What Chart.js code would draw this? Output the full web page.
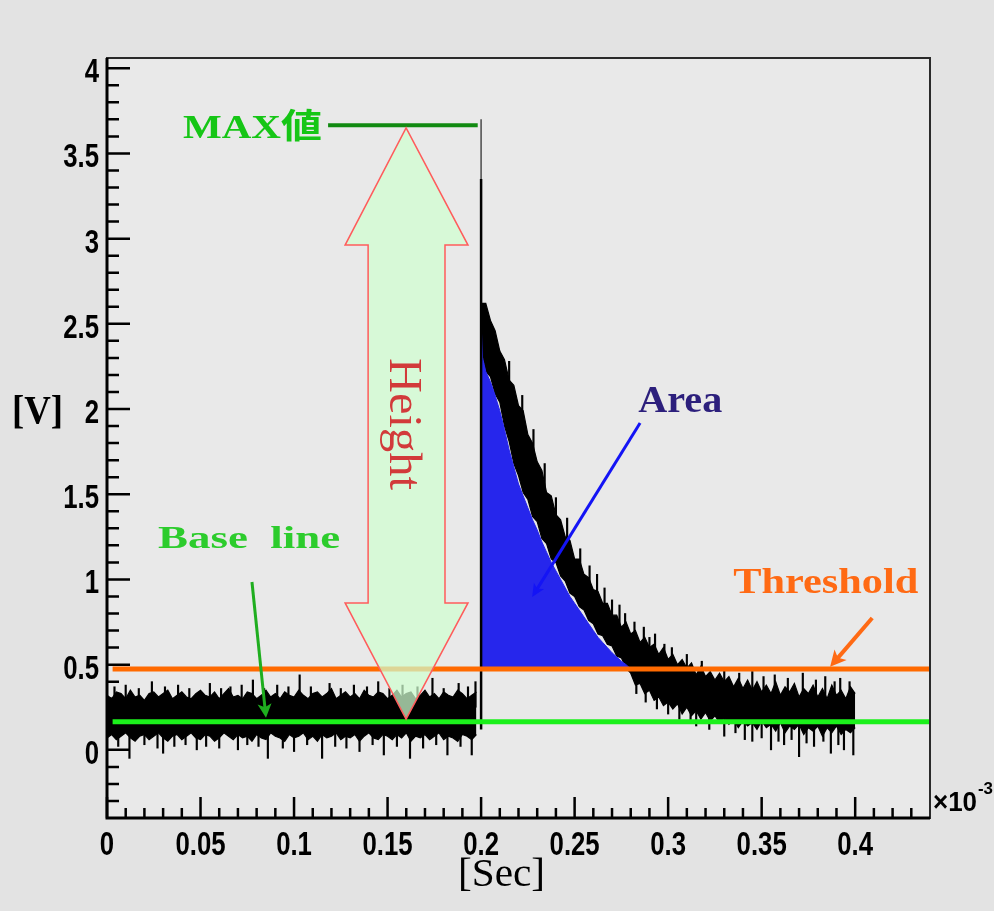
<!DOCTYPE html>
<html>
<head>
<meta charset="utf-8">
<title>Pulse height / area</title>
<script src="https://cdn.jsdelivr.net/npm/chart.js@4.4.0/dist/chart.umd.min.js"></script>
<style>
  html, body { margin: 0; padding: 0; background: #e3e3e3; }
  canvas { display: block; }
</style>
</head>
<body>
<canvas id="scope" width="994" height="911"></canvas>
<script>
// time axis is in units of 10^-3 s, voltage in V
const sampleStep = 0.0025;

// noise envelope before the pulse, t = 0 .. 0.1975
const baseHigh = [
  0.32, 0.30, 0.34, 0.33, 0.30, 0.35, 0.31, 0.32, 0.29, 0.33,
  0.34, 0.31, 0.33, 0.35, 0.30, 0.32, 0.34, 0.31, 0.30, 0.33,
  0.35, 0.32, 0.31, 0.34, 0.30, 0.33, 0.36, 0.31, 0.32, 0.30,
  0.34, 0.33, 0.30, 0.32, 0.35, 0.31, 0.33, 0.30, 0.34, 0.32,
  0.31, 0.35, 0.32, 0.30, 0.33, 0.34, 0.31, 0.33, 0.36, 0.30,
  0.32, 0.34, 0.31, 0.33, 0.30, 0.35, 0.32, 0.31, 0.34, 0.33,
  0.30, 0.32, 0.35, 0.31, 0.33, 0.34, 0.30, 0.32, 0.35, 0.31,
  0.33, 0.30, 0.34, 0.32, 0.31, 0.35, 0.33, 0.30, 0.32, 0.34
];
const baseLow = [
  0.07, 0.09, 0.06, 0.08, 0.10, 0.07, 0.05, 0.08, 0.09, 0.06,
  0.08, 0.10, 0.07, 0.05, 0.08, 0.09, 0.06, 0.08, 0.10, 0.07,
  0.06, 0.09, 0.08, 0.05, 0.07, 0.10, 0.08, 0.06, 0.09, 0.07,
  0.08, 0.05, 0.09, 0.07, 0.06, 0.10, 0.08, 0.07, 0.05, 0.09,
  0.07, 0.08, 0.10, 0.06, 0.08, 0.05, 0.09, 0.07, 0.08, 0.10,
  0.06, 0.08, 0.07, 0.09, 0.05, 0.08, 0.10, 0.07, 0.06, 0.09,
  0.08, 0.06, 0.09, 0.07, 0.10, 0.05, 0.08, 0.07, 0.09, 0.06,
  0.08, 0.10, 0.06, 0.08, 0.07, 0.05, 0.09, 0.08, 0.06, 0.09
];

// sample at t = 0.2 (just after the trigger)
const pulseSample = [2.36, 2.62];

// decaying tail, t = 0.2025 .. 0.4
const tailHigh = [
  2.62, 2.52, 2.46, 2.34, 2.29, 2.17, 2.14, 2.02, 1.99, 1.85,
  1.80, 1.69, 1.64, 1.51, 1.49, 1.38, 1.35, 1.25, 1.23, 1.12,
  1.12, 1.03, 1.01, 0.94, 0.93, 0.86, 0.86, 0.79, 0.79, 0.72,
  0.75, 0.68, 0.70, 0.63, 0.66, 0.60, 0.62, 0.56, 0.60, 0.53,
  0.56, 0.50, 0.53, 0.48, 0.51, 0.44, 0.49, 0.43, 0.46, 0.41,
  0.45, 0.40, 0.43, 0.37, 0.42, 0.36, 0.41, 0.35, 0.40, 0.34,
  0.38, 0.33, 0.40, 0.32, 0.37, 0.34, 0.39, 0.31, 0.36, 0.33,
  0.38, 0.31, 0.36, 0.30, 0.38, 0.32, 0.35, 0.30, 0.37, 0.33
];
const tailLow = [
  2.22, 2.19, 2.09, 2.04, 1.90, 1.81, 1.68, 1.61, 1.51, 1.47,
  1.37, 1.34, 1.24, 1.21, 1.12, 1.10, 1.02, 0.99, 0.92, 0.90,
  0.84, 0.82, 0.76, 0.74, 0.68, 0.67, 0.62, 0.61, 0.55, 0.54,
  0.48, 0.45, 0.38, 0.39, 0.33, 0.35, 0.29, 0.31, 0.26, 0.28,
  0.24, 0.27, 0.21, 0.25, 0.20, 0.23, 0.18, 0.22, 0.17, 0.20,
  0.16, 0.19, 0.15, 0.18, 0.13, 0.17, 0.14, 0.16, 0.12, 0.17,
  0.13, 0.15, 0.11, 0.16, 0.10, 0.14, 0.12, 0.15, 0.09, 0.13,
  0.11, 0.14, 0.08, 0.13, 0.10, 0.14, 0.09, 0.12, 0.10, 0.13
];

// single-sample glitches sticking out of the band: [t, low, high]
const preSpikesUp = [
  [0.004, 0.25, 0.37], [0.010, 0.25, 0.38], [0.017, 0.25, 0.36], [0.024, 0.25, 0.40], [0.031, 0.25, 0.37],
  [0.038, 0.25, 0.38], [0.044, 0.25, 0.36], [0.055, 0.25, 0.39], [0.061, 0.25, 0.36], [0.066, 0.25, 0.37],
  [0.072, 0.25, 0.38], [0.078, 0.25, 0.41], [0.084, 0.25, 0.36], [0.091, 0.25, 0.38], [0.097, 0.25, 0.37],
  [0.103, 0.25, 0.44], [0.109, 0.25, 0.37], [0.119, 0.25, 0.39], [0.125, 0.25, 0.36], [0.132, 0.25, 0.38],
  [0.139, 0.25, 0.37], [0.145, 0.25, 0.40], [0.151, 0.25, 0.36], [0.158, 0.25, 0.38], [0.166, 0.25, 0.37],
  [0.174, 0.25, 0.42], [0.180, 0.25, 0.36], [0.188, 0.25, 0.39], [0.193, 0.25, 0.37], [0.197, 0.25, 0.40]
];
const preSpikesDown = [
  [0.006, 0.02, 0.12], [0.012, -0.05, 0.12], [0.020, 0.03, 0.12], [0.027, 0.01, 0.12], [0.030, -0.02, 0.12],
  [0.036, 0.02, 0.12], [0.042, 0.03, 0.12], [0.048, 0.00, 0.12], [0.053, 0.02, 0.12], [0.060, 0.01, 0.12],
  [0.070, 0.00, 0.12], [0.075, 0.03, 0.12], [0.081, 0.02, 0.12], [0.086, -0.05, 0.12], [0.094, 0.01, 0.12],
  [0.100, -0.01, 0.12], [0.107, 0.03, 0.12], [0.115, -0.05, 0.12], [0.122, 0.02, 0.12], [0.128, 0.01, 0.12],
  [0.135, -0.01, 0.12], [0.142, 0.03, 0.12], [0.148, -0.03, 0.12], [0.155, 0.02, 0.12], [0.162, -0.05, 0.12],
  [0.169, 0.01, 0.12], [0.176, 0.03, 0.12], [0.182, -0.03, 0.12], [0.189, 0.02, 0.12], [0.195, -0.03, 0.12]
];
const tailSpikesUp = [
  [0.215, 2.00, 2.28], [0.222, 1.80, 2.08], [0.228, 1.60, 1.88], [0.234, 1.40, 1.68], [0.240, 1.20, 1.48],
  [0.246, 1.10, 1.36], [0.253, 0.95, 1.18], [0.258, 0.85, 1.08], [0.262, 0.80, 1.03], [0.266, 0.75, 0.95],
  [0.270, 0.70, 0.88], [0.274, 0.65, 0.85], [0.277, 0.60, 0.80], [0.282, 0.55, 0.75], [0.287, 0.50, 0.72],
  [0.290, 0.50, 0.66], [0.293, 0.45, 0.68], [0.298, 0.45, 0.62], [0.302, 0.40, 0.60], [0.310, 0.35, 0.56],
  [0.318, 0.30, 0.52], [0.330, 0.30, 0.48], [0.338, 0.30, 0.45], [0.345, 0.30, 0.46], [0.351, 0.30, 0.43],
  [0.357, 0.30, 0.44], [0.364, 0.30, 0.42], [0.372, 0.30, 0.45], [0.379, 0.30, 0.41], [0.384, 0.30, 0.43],
  [0.389, 0.30, 0.40], [0.392, 0.30, 0.42], [0.397, 0.30, 0.40]
];
const tailSpikesDown = [
  [0.283, 0.33, 0.45], [0.288, 0.28, 0.40], [0.294, 0.24, 0.35], [0.300, 0.21, 0.30], [0.306, 0.18, 0.28],
  [0.312, 0.16, 0.26], [0.315, 0.14, 0.25], [0.322, 0.12, 0.22], [0.330, 0.08, 0.20], [0.336, 0.10, 0.20],
  [0.341, 0.06, 0.18], [0.345, 0.05, 0.18], [0.350, 0.07, 0.16], [0.355, 0.00, 0.16], [0.359, 0.05, 0.16],
  [0.362, 0.03, 0.15], [0.366, 0.06, 0.15], [0.370, -0.04, 0.15], [0.374, 0.04, 0.15], [0.378, 0.02, 0.15],
  [0.383, 0.05, 0.15], [0.387, -0.02, 0.15], [0.391, 0.03, 0.15], [0.394, 0.00, 0.15], [0.399, -0.03, 0.15]
];

// integrated region above threshold (smooth decay curve)
const areaTimes = [
  0.2, 0.2008, 0.2025, 0.205, 0.2075, 0.21, 0.2125, 0.215, 0.2175, 0.22,
  0.2225, 0.225, 0.2275, 0.23, 0.2325, 0.235, 0.2375, 0.24, 0.2425, 0.245,
  0.2475, 0.25, 0.2525, 0.255, 0.2575, 0.26, 0.2625, 0.265, 0.2675, 0.27,
  0.2725, 0.275, 0.2775, 0.28
];
const areaLevels = [
  2.50, 2.30, 2.22, 2.16, 2.08, 1.99, 1.88, 1.76, 1.66, 1.56,
  1.49, 1.42, 1.35, 1.29, 1.22, 1.16, 1.10, 1.05, 1.00, 0.95,
  0.90, 0.86, 0.82, 0.78, 0.74, 0.70, 0.66, 0.63, 0.60, 0.57,
  0.545, 0.52, 0.50, 0.475
];

const pulseTime = 0.2;
const pulseEdge = [0.12, 3.35];
const pulseTop = 3.70;
const maxLevel = 3.665;
const thresholdLevel = 0.475;
const baselineLevel = 0.165;

const xTickValues = [0, 0.05, 0.1, 0.15, 0.2, 0.25, 0.3, 0.35, 0.4];
const xTickLabels = ['0', '0.05', '0.1', '0.15', '0.2', '0.25', '0.3', '0.35', '0.4'];
const yTickValues = [0, 0.5, 1, 1.5, 2, 2.5, 3, 3.5, 4];
const yTickLabels = ['0', '0.5', '1', '1.5', '2', '2.5', '3', '3.5', '4'];

// ---- build datasets ----
const baseUpper = baseHigh.map((v, i) => ({ x: i * sampleStep, y: v }));
const baseLower = baseLow.map((v, i) => ({ x: i * sampleStep, y: v }));
const tailUpper = [{ x: pulseTime, y: pulseSample[1] }]
  .concat(tailHigh.map((v, i) => ({ x: (81 + i) * sampleStep, y: v })));
const tailLower = [{ x: pulseTime, y: pulseSample[0] }]
  .concat(tailLow.map((v, i) => ({ x: (81 + i) * sampleStep, y: v })));

const spikeBars = preSpikesUp.concat(preSpikesDown, tailSpikesUp, tailSpikesDown)
  .map(([t, lo, hi]) => ({ x: t, y: [lo, hi] }));
const areaPoints = areaTimes.map((t, i) => ({ x: t, y: areaLevels[i] }));

const SERIF = '"Liberation Serif", "Times New Roman", "Noto Sans CJK JP", serif';
const SANS = '"Liberation Sans", Arial, sans-serif';

function fitText(ctx, text, x, y, width, font, color) {
  ctx.save();
  ctx.font = font;
  ctx.fillStyle = color;
  ctx.textAlign = 'left';
  ctx.textBaseline = 'alphabetic';
  const w = ctx.measureText(text).width;
  ctx.translate(x, y);
  ctx.scale(width / w, 1);
  ctx.fillText(text, 0, 0);
  ctx.restore();
}

function tickText(ctx, text, x, y, align) {
  const squeeze = 0.78;
  ctx.save();
  ctx.font = 'bold 33px ' + SANS;
  ctx.fillStyle = '#000';
  ctx.textBaseline = 'alphabetic';
  const w = ctx.measureText(text).width * squeeze;
  const left = align === 'center' ? x - w / 2 : x - w;
  ctx.translate(left, y);
  ctx.scale(squeeze, 1);
  ctx.fillText(text, 0, 0);
  ctx.restore();
}

function arrow(ctx, x1, y1, x2, y2, color, width, headLen, headHalf) {
  const ang = Math.atan2(y2 - y1, x2 - x1);
  ctx.save();
  ctx.strokeStyle = color;
  ctx.fillStyle = color;
  ctx.lineWidth = width;
  ctx.beginPath();
  ctx.moveTo(x1, y1);
  ctx.lineTo(x2 - Math.cos(ang) * headLen * 0.6, y2 - Math.sin(ang) * headLen * 0.6);
  ctx.stroke();
  ctx.translate(x2, y2);
  ctx.rotate(ang);
  ctx.beginPath();
  ctx.moveTo(0, 0);
  ctx.lineTo(-headLen, -headHalf);
  ctx.lineTo(-headLen * 0.75, 0);
  ctx.lineTo(-headLen, headHalf);
  ctx.closePath();
  ctx.fill();
  ctx.restore();
}

const backdrop = {
  id: 'backdrop',
  beforeDraw(chart) {
    const { ctx, chartArea: a } = chart;
    ctx.save();
    ctx.fillStyle = '#e3e3e3';
    ctx.fillRect(0, 0, chart.width, chart.height);
    ctx.fillStyle = '#e9e9e9';
    ctx.fillRect(a.left, a.top, a.right - a.left, a.bottom - a.top);
    ctx.restore();
  }
};

const notes = {
  id: 'notes',
  afterDatasetsDraw(chart) {
    const { ctx } = chart;
    const X = v => chart.scales.x.getPixelForValue(v);
    const Y = v => chart.scales.y.getPixelForValue(v);

    // MAX line
    ctx.save();
    ctx.strokeStyle = '#118a11';
    ctx.lineWidth = 4;
    ctx.beginPath();
    ctx.moveTo(X(0.1182), Y(maxLevel));
    ctx.lineTo(X(0.1982), Y(maxLevel));
    ctx.stroke();
    ctx.restore();
    fitText(ctx, 'MAX値', X(0.0406), Y(3.59), 139, 'bold 34px ' + SERIF, '#16c616');

    // Height double arrow
    const hx = 0.1599, headL = 0.1273, headR = 0.1930, shaftL = 0.1396, shaftR = 0.1807;
    const upper = 2.962, lower = 0.862;
    const poly = [
      [hx, 3.65], [headR, upper], [shaftR, upper], [shaftR, lower], [headR, lower],
      [hx, 0.18], [headL, lower], [shaftL, lower], [shaftL, upper], [headL, upper]
    ];
    ctx.save();
    ctx.beginPath();
    poly.forEach(([px, py], i) => i ? ctx.lineTo(X(px), Y(py)) : ctx.moveTo(X(px), Y(py)));
    ctx.closePath();
    ctx.fillStyle = 'rgba(208, 255, 208, 0.72)';
    ctx.fill();
    ctx.strokeStyle = '#ff5c5c';
    ctx.lineWidth = 1.5;
    ctx.stroke();
    ctx.restore();

    // "Height", rotated
    ctx.save();
    ctx.font = '46px ' + SERIF;
    const hw = ctx.measureText('Height').width;
    ctx.translate(X(hx), Y(1.912));
    ctx.rotate(Math.PI / 2);
    ctx.scale(132 / hw, 1);
    ctx.fillStyle = '#d23a3a';
    ctx.textBaseline = 'alphabetic';
    ctx.fillText('Height', -hw / 2, 16);
    ctx.restore();

    // Area label + pointer
    fitText(ctx, 'Area', X(0.284), Y(1.982), 84, 'bold 38px ' + SERIF, '#2c1f7c');
    arrow(ctx, X(0.285), Y(1.918), X(0.2273), Y(0.897), '#1414f5', 3, 13, 6);

    // Base line label + pointer
    fitText(ctx, 'Base  line', X(0.0273), Y(1.185), 182, 'bold 32px ' + SERIF, '#2ccc2c');
    arrow(ctx, X(0.0775), Y(0.985), X(0.085), Y(0.188), '#1fae1f', 3, 14, 7);

    // Threshold label + pointer
    fitText(ctx, 'Threshold', X(0.3348), Y(0.921), 185, 'bold 36px ' + SERIF, '#ff6a14');
    arrow(ctx, X(0.4091), Y(0.774), X(0.3866), Y(0.487), '#ff6a14', 4, 16, 8);
  },

  afterDraw(chart) {
    const { ctx, chartArea: a } = chart;
    const X = v => chart.scales.x.getPixelForValue(v);
    const Y = v => chart.scales.y.getPixelForValue(v);

    ctx.save();
    // frame
    ctx.strokeStyle = '#2a2a2a';
    ctx.lineWidth = 2;
    ctx.strokeRect(a.left, a.top, a.right - a.left, a.bottom - a.top);
    ctx.strokeStyle = '#000';
    ctx.lineWidth = 3;
    ctx.beginPath();
    ctx.moveTo(a.left, a.top);
    ctx.lineTo(a.left, a.bottom);
    ctx.lineTo(a.right, a.bottom);
    ctx.stroke();

    // ticks pointing into the frame
    ctx.lineWidth = 2.5;
    ctx.beginPath();
    for (let k = 0; k <= 43; k++) {
      const px = X(k / 100);
      const len = k % 5 === 0 ? 21 : 10;
      ctx.moveTo(px, a.bottom);
      ctx.lineTo(px, a.bottom - len);
    }
    for (let k = -3; k <= 40; k++) {
      const py = Y(k / 10);
      const len = k % 5 === 0 ? 23 : 12;
      ctx.moveTo(a.left, py);
      ctx.lineTo(a.left + len, py);
    }
    ctx.stroke();
    ctx.restore();

    xTickValues.forEach((v, i) => tickText(ctx, xTickLabels[i], X(v), a.bottom + 37, 'center'));
    yTickValues.forEach((v, i) => tickText(ctx, yTickLabels[i], a.left - 8, Y(v) + 14, 'right'));

    // exponent of the time axis
    fitText(ctx, '×10', a.right + 3, a.bottom - 7, 44, 'bold 28px ' + SANS, '#000');
    fitText(ctx, '-3', a.right + 48, a.bottom - 24, 15, 'bold 17px ' + SANS, '#000');

    // axis titles
    fitText(ctx, '[V]', 12, 423, 51, 'bold 40px ' + SERIF, '#000');
    fitText(ctx, '[Sec]', X(0.1877), a.bottom + 68, 87, '40px ' + SERIF, '#000');
  }
};

function bandEdge(label, points, fill) {
  return {
    type: 'line',
    label,
    data: points,
    borderColor: '#000',
    borderWidth: 1.2,
    backgroundColor: '#000',
    pointRadius: 0,
    tension: 0,
    fill,
    order: 3
  };
}

new Chart(document.getElementById('scope'), {
  type: 'bar',
  data: {
    datasets: [
      bandEdge('signal (pre) upper', baseUpper, '+1'),
      bandEdge('signal (pre) lower', baseLower, false),
      bandEdge('signal (tail) upper', tailUpper, '+1'),
      bandEdge('signal (tail) lower', tailLower, false),
      {
        type: 'bar',
        label: 'glitches',
        data: spikeBars,
        backgroundColor: '#000',
        barThickness: 1.5,
        grouped: false,
        order: 3
      },
      {
        type: 'line',
        label: 'area',
        data: areaPoints,
        borderColor: '#2626ec',
        borderWidth: 1,
        backgroundColor: '#2626ec',
        fill: { value: thresholdLevel },
        pointRadius: 0,
        order: 2
      },
      {
        type: 'line',
        label: 'pulse edge',
        data: [{ x: pulseTime, y: pulseEdge[0] }, { x: pulseTime, y: pulseEdge[1] }],
        borderColor: '#000',
        borderWidth: 2.5,
        pointRadius: 0,
        order: 1
      },
      {
        type: 'line',
        label: 'pulse tip',
        data: [{ x: pulseTime, y: pulseEdge[1] }, { x: pulseTime, y: pulseTop }],
        borderColor: '#4a4a4a',
        borderWidth: 1.5,
        pointRadius: 0,
        order: 1
      },
      {
        type: 'line',
        label: 'threshold',
        data: [{ x: 0.003, y: thresholdLevel }, { x: 0.44, y: thresholdLevel }],
        borderColor: '#ff6a00',
        borderWidth: 5,
        pointRadius: 0,
        order: 0
      },
      {
        type: 'line',
        label: 'baseline',
        data: [{ x: 0.003, y: baselineLevel }, { x: 0.44, y: baselineLevel }],
        borderColor: '#1bf01b',
        borderWidth: 5,
        pointRadius: 0,
        order: 0
      }
    ]
  },
  options: {
    responsive: false,
    devicePixelRatio: 1,
    animation: false,
    events: [],
    layout: { padding: { left: 107, top: 58, right: 64, bottom: 93 } },
    plugins: { legend: { display: false }, tooltip: { enabled: false } },
    scales: {
      x: { type: 'linear', min: 0, max: 0.44, offset: false, display: false },
      y: { type: 'linear', min: -0.4, max: 4.06, display: false }
    }
  },
  plugins: [backdrop, notes]
});
</script>
</body>
</html>
